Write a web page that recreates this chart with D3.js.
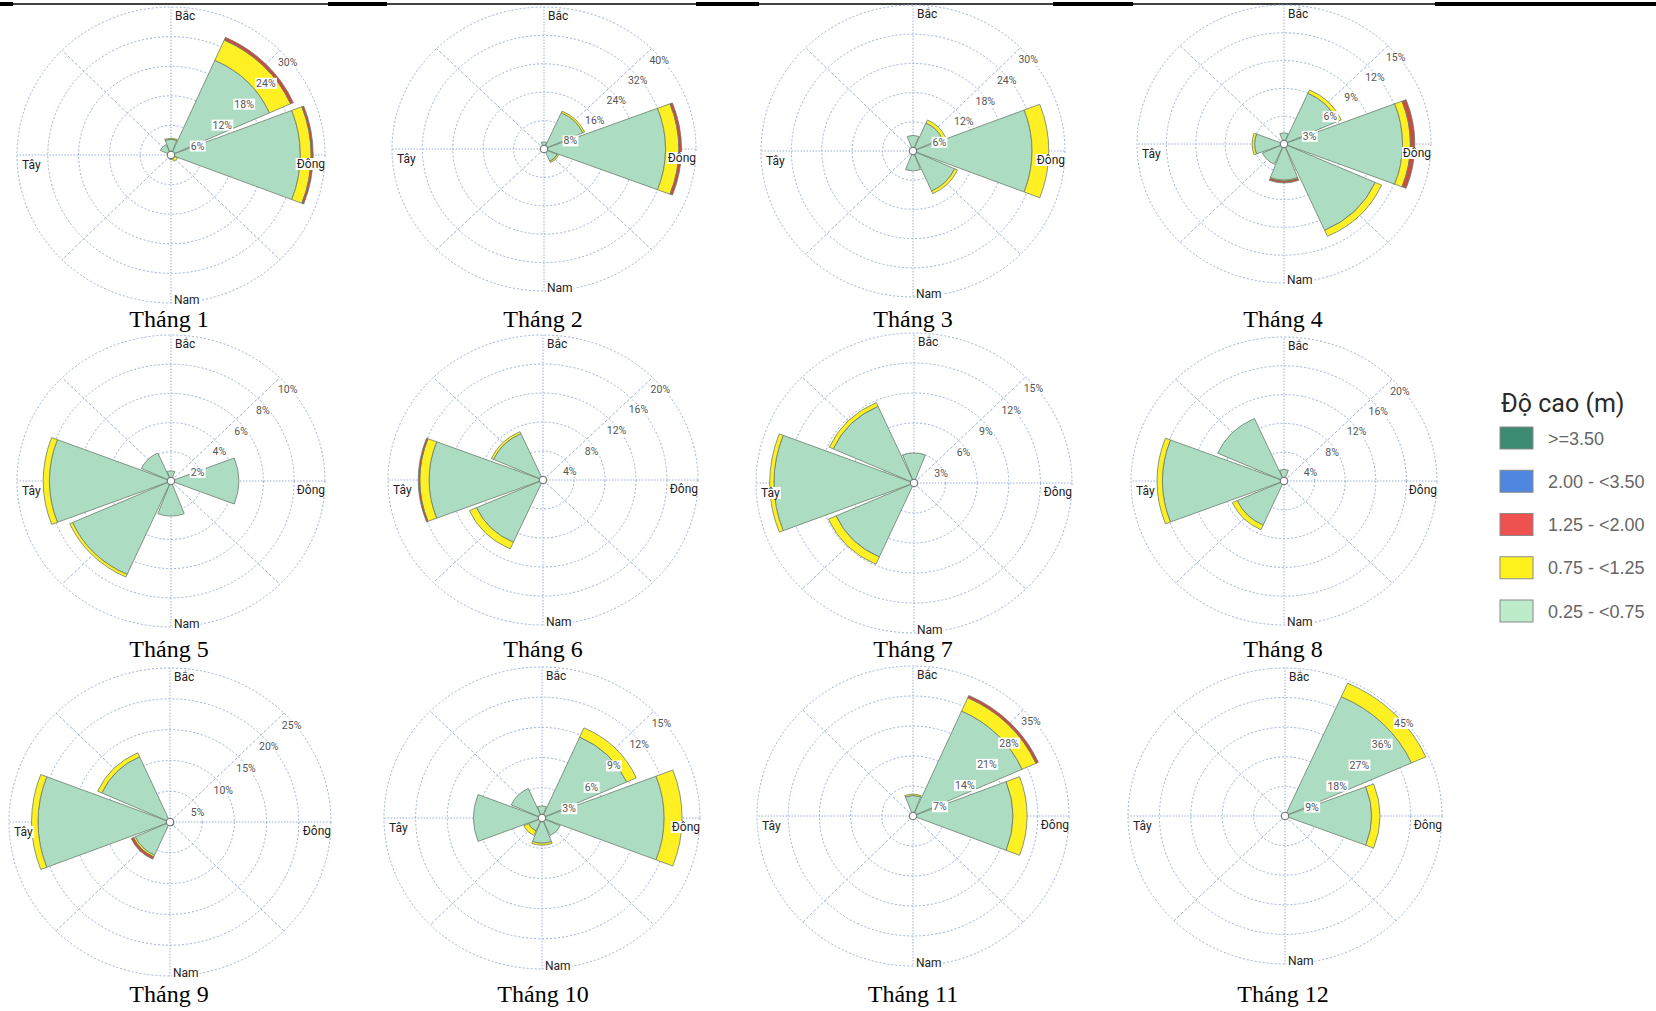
<!DOCTYPE html>
<html><head><meta charset="utf-8">
<script src="https://cdn.jsdelivr.net/npm/d3@7"></script>
<style>body{margin:0;background:#fff;}svg{display:block}</style>
</head><body>
<svg id="chart" width="1656" height="1011"></svg>
<script>
// ---------------- DATA ----------------
const monthNames = ["Tháng 1","Tháng 2","Tháng 3","Tháng 4","Tháng 5","Tháng 6",
                    "Tháng 7","Tháng 8","Tháng 9","Tháng 10","Tháng 11","Tháng 12"];
// ring step (%) of each month's rose: rings at 1..5 x step
const ringStep = [6, 8, 6, 3, 2, 4, 3, 4, 5, 3, 7, 9];
const ringLabelSuffix = "%";
// sector directions (degrees clockwise from north): N, NE, E, SE, S, SW, W, NW
const dirAngles = [0, 45, 90, 135, 180, 225, 270, 315];
const compassNames = ["Bắc", "Đông", "Nam", "Tây"];
// frequency (%) per month and direction for each wave-height class
const h025 = [ // 0.25 - <0.75
  [3.2, 21.0, 25.2, 0.8, 0.9, 0, 0, 2.3],
  [2.0, 11.2, 32.0, 3.8, 0, 0, 0, 0],
  [3.2, 6.3, 23.5, 9.0, 4.1, 0, 0, 0],
  [1.2, 6.0, 12.1, 10.2, 3.9, 2.4, 3.0, 0],
  [0.7, 0, 4.4, 0, 2.4, 7.0, 7.9, 2.1],
  [0, 0, 0, 0, 0, 9.4, 14.7, 7.0],
  [3.0, 0, 0, 0, 0, 8.1, 13.3, 8.4],
  [1.6, 0, 0, 0, 0, 6.7, 15.9, 9.5],
  [0, 0, 0, 0.3, 0, 5.9, 20.5, 11.6],
  [1.2, 8.8, 11.6, 1.9, 2.5, 1.4, 6.5, 3.2],
  [4.8, 26.8, 22.4, 0, 0, 0, 0, 0],
  [1.0, 39.7, 24.8, 0, 0, 0, 0, 0]
];
const h075 = [ // 0.75 - <1.25
  [0.2, 4.5, 2.1, 0.6, 0, 0, 0, 0],
  [0, 0.5, 3.5, 0.4, 0, 0, 0, 0],
  [0, 0.7, 3.3, 0.6, 0, 0, 0, 0],
  [0, 0.4, 0.8, 0.7, 0.1, 0, 0.25, 0],
  [0, 0, 0, 0, 0, 0.2, 0.4, 0],
  [0, 0, 0, 0, 0, 1.0, 1.2, 0.3],
  [0, 0, 0, 0, 0, 0.8, 0.4, 0.4],
  [0, 0, 0, 0, 0, 0.7, 0.7, 0],
  [0, 0, 0, 0.4, 0, 0.3, 1.0, 0.7],
  [0, 1.0, 1.7, 0, 0.2, 0.5, 0, 0],
  [0.3, 3.4, 3.2, 0, 0, 0, 0, 0],
  [0, 4.5, 2.4, 0, 0, 0, 0, 0]
];
const h125 = [ // 1.25 - <2.00
  [0, 0.6, 0.4, 0, 0, 0, 0, 0],
  [0, 0, 0.7, 0, 0, 0, 0, 0],
  [0, 0, 0, 0, 0, 0, 0, 0],
  [0, 0, 0.45, 0, 0.2, 0, 0, 0],
  [0, 0, 0, 0, 0, 0, 0, 0],
  [0, 0, 0, 0, 0, 0, 0.2, 0],
  [0, 0, 0, 0, 0, 0, 0, 0],
  [0, 0, 0, 0, 0, 0, 0, 0],
  [0, 0, 0, 0, 0, 0.4, 0, 0],
  [0, 0, 0, 0, 0, 0, 0, 0],
  [0, 0.6, 0, 0, 0, 0, 0, 0],
  [0, 0, 0, 0, 0, 0, 0, 0]
];
const legendTitle = "Độ cao (m)";
const legendLabels = [">=3.50", "2.00 - <3.50", "1.25 - <2.00", "0.75 - <1.25", "0.25 - <0.75"];

// ---------------- LAYOUT / STYLE ----------------
const panelLayout = [
  {cx:171, cy:155, rx:154, ry:148}, {cx:544, cy:149, rx:152, ry:142},
  {cx:913, cy:151, rx:152, ry:146}, {cx:1284, cy:144, rx:147, ry:139},
  {cx:171, cy:481, rx:154, ry:146}, {cx:543, cy:480, rx:155, ry:145},
  {cx:914, cy:483, rx:158, ry:150}, {cx:1284, cy:481, rx:153, ry:144},
  {cx:170, cy:822, rx:161, ry:154}, {cx:542, cy:818, rx:158, ry:151},
  {cx:913, cy:816, rx:156, ry:150}, {cx:1285, cy:816, rx:157, ry:148}
];
const titleX = [169, 543, 913, 1283];
const titleY = [327, 657, 1002];
const sectorColors = {g:"#acdcc2", y:"#fff024", r:"#cc4a40"};
const legendColors = ["#3b8c72", "#4f86df", "#ef5050", "#fff21c", "#bdeccb"];
const gridColor = "#9cb0d8";
const half = 21 * Math.PI / 180;
const rad = d => d * Math.PI / 180;

const svg = d3.select("#chart");

// top rule (page border of the source document)
svg.append("line").attr("x1",0).attr("x2",1656).attr("y1",4).attr("y2",4)
  .attr("stroke","#000").attr("stroke-width",1.3);
[[0,13],[328,387],[696,759],[1053,1133],[1435,1656]].forEach(s=>{
  svg.append("rect").attr("x",s[0]).attr("y",2).attr("width",s[1]-s[0]).attr("height",4).attr("fill","#000");
});

function textWithBg(parent, x, y, txt, o) {
  const g = parent.append("g");
  const t = g.append("text").attr("x", x).attr("y", y).text(txt)
    .attr("font-family", o.font).attr("font-size", o.size).attr("fill", o.fill)
    .attr("text-anchor", o.anchor || "start");
  const b = t.node().getBBox();
  const trim = o.trim || 0;
  g.insert("rect", "text").attr("x", b.x - 1).attr("y", b.y + trim)
    .attr("width", b.width + 2).attr("height", b.height - 2 * trim).attr("fill", "#fff");
  return g;
}

const stack = d3.stack().keys(["g", "y", "r"]);
const keyColor = {g: sectorColors.g, y: sectorColors.y, r: sectorColors.r};

panelLayout.forEach((p, i) => {
  const ky = p.ry / p.rx;
  const step = ringStep[i];
  const ticks = d3.range(1, 6).map(k => k * step);
  const maxV = ticks[ticks.length - 1];
  const r = d3.scaleLinear().domain([0, maxV]).range([0, p.rx]);

  const g = svg.append("g").attr("transform", `translate(${p.cx},${p.cy})`);
  const plot = g.append("g").attr("transform", `scale(1,${ky})`);

  // grid rings
  plot.selectAll("circle.ring").data(ticks).join("circle").attr("class", "ring")
    .attr("r", d => r(d)).attr("fill", "none").attr("stroke", gridColor)
    .attr("stroke-width", 1).attr("stroke-dasharray", "2,2")
    .attr("vector-effect", "non-scaling-stroke");
  // spokes
  plot.selectAll("line.spoke").data(dirAngles).join("line").attr("class", "spoke")
    .attr("x1", 0).attr("y1", 0)
    .attr("x2", a => r(maxV) * Math.sin(rad(a)))
    .attr("y2", a => -r(maxV) * Math.cos(rad(a)))
    .attr("stroke", gridColor).attr("stroke-width", 1)
    .attr("stroke-dasharray", (a) => a % 90 === 0 ? "1.5,1.5" : "3,2")
    .attr("vector-effect", "non-scaling-stroke");

  // sectors
  const rows = dirAngles.map((a, j) => ({angle: a, g: h025[i][j], y: h075[i][j], r: h125[i][j]}));
  const series = stack(rows);
  const arc = d3.arc();
  series.forEach(s => {
    plot.append("g").selectAll("path").data(s.filter(d => d[1] - d[0] > 0)).join("path")
      .attr("d", d => arc({
        innerRadius: r(d[0]), outerRadius: r(d[1]),
        startAngle: rad(d.data.angle) - half, endAngle: rad(d.data.angle) + half
      }))
      .attr("fill", keyColor[s.key]).attr("stroke", "#6b7d6c").attr("stroke-width", 0.8)
      .attr("stroke-linejoin", "round")
      .attr("vector-effect", "non-scaling-stroke");
  });

  // centre calm circle
  g.append("circle").attr("r", 3.8).attr("fill", "#fff").attr("stroke", "#666").attr("stroke-width", 1);

  // ring labels along 45 degrees
  ticks.forEach(v => {
    const x = r(v) * Math.sin(Math.PI / 4) - 2;
    const y = -r(v) * Math.cos(Math.PI / 4) * ky + 15.5;
    textWithBg(g, x, y, v + ringLabelSuffix, {font: "Roboto", size: 10.5, fill: "#555", trim: 1});
  });

  // compass labels
  const lab = {font: "Roboto", size: 12, fill: "#222", trim: 1};
  textWithBg(g, 4, -p.ry + 13, compassNames[0], lab);
  textWithBg(g, p.rx, 13, compassNames[1], Object.assign({}, lab, {anchor: "end"}));
  textWithBg(g, 3, p.ry + 1, compassNames[2], lab);
  textWithBg(g, -p.rx + 5, 14, compassNames[3], lab);

  // month title
  svg.append("text").attr("x", titleX[i % 4]).attr("y", titleY[Math.floor(i / 4)])
    .attr("text-anchor", "middle").attr("font-family", "Liberation Serif, Times New Roman, serif")
    .attr("font-size", 24).attr("fill", "#000").text(monthNames[i]);
});

// legend
const lg = svg.append("g").attr("transform", "translate(1500,0)");
lg.append("text").attr("x", 1).attr("y", 412).attr("font-family", "Roboto")
  .attr("font-size", 25).attr("fill", "#2a2a2a").text(legendTitle);
const ly = d3.scalePoint().domain(legendLabels).range([438, 611]);
lg.selectAll("rect.sw").data(legendLabels).join("rect").attr("class", "sw")
  .attr("x", 0).attr("y", d => ly(d) - 11).attr("width", 33).attr("height", 22)
  .attr("fill", (d, k) => legendColors[k]).attr("stroke", "#8a8a8a").attr("stroke-width", 1);
lg.selectAll("text.lab").data(legendLabels).join("text").attr("class", "lab")
  .attr("x", 48).attr("y", d => ly(d) + 6.5).attr("font-family", "Liberation Sans, Arial, sans-serif")
  .attr("font-size", 18).attr("fill", "#666").text(d => d);
</script>
</body></html>
